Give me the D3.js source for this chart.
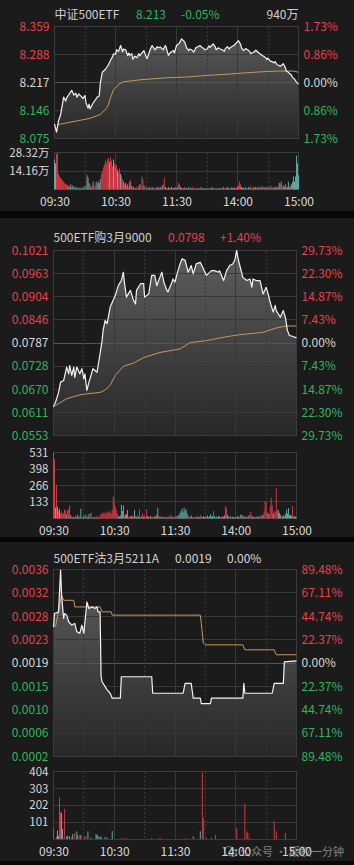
<!DOCTYPE html>
<html>
<head>
<meta charset="utf-8">
<script src="https://cdn.jsdelivr.net/npm/d3@7"></script>
<style>
  body { margin: 0; background: #1b1b1b; }
  svg { display: block; }
</style>
</head>
<body>
<div id="chart"></div>
<script>
var FONT = '"Noto Sans CJK SC","Noto Sans",sans-serif';
var RED = '#e8404d', GREEN = '#2fb55b', WHITE = '#d8d8d8';
var BAR_COL = { r: '#e33b47', g: '#58bab4', w: '#a6a6a6' };

// time axis (minute index, 0 = 09:30, 120 = 11:30/13:00, 240 = 15:00)
var timeTicks = [0, 60, 120, 180, 240];
var timeLabels = ['09:30', '10:30', '11:30', '14:00', '15:00'];
var solidTicks = [60, 120, 180];
var dashTicks = [30, 90, 150, 210];

// ---------- panel 1 : 中证500ETF ----------
var p1PctTicks = [1.73, 0.86, 0, -0.86, -1.73];
var p1PriceLabels = ['8.359', '8.288', '8.217', '8.146', '8.075'];
var p1VolTicks = [28.32, 14.16];
var p1Price = [
  [0,8.112],[2,8.091],[4,8.120],[6,8.135],[9,8.180],[11,8.170],[12,8.178],[14,8.186],[17,8.197],[19,8.185],
  [21,8.190],[22,8.180],[24,8.188],[25,8.185],[27,8.180],[28,8.176],[30,8.184],[31,8.165],[33,8.152],[34,8.162],
  [35,8.150],[37,8.160],[38,8.165],[40,8.172],[42,8.180],[44,8.183],[45,8.214],[47,8.243],[50,8.250],[53,8.262],
  [55,8.273],[57,8.282],[58,8.290],[60,8.288],[61,8.300],[63,8.296],[65,8.311],[67,8.295],[68,8.302],[70,8.300],
  [72,8.285],[73,8.292],[74,8.286],[76,8.290],[77,8.276],[79,8.284],[81,8.280],[83,8.290],[84,8.285],[86,8.292],
  [88,8.298],[89,8.290],[91,8.277],[93,8.292],[94,8.300],[96,8.311],[98,8.303],[99,8.300],[101,8.308],[102,8.305],
  [104,8.307],[106,8.302],[107,8.300],[109,8.311],[110,8.305],[112,8.286],[113,8.290],[115,8.295],[117,8.298],[118,8.292],
  [120,8.311],[122,8.315],[123,8.318],[125,8.328],[126,8.325],[128,8.320],[130,8.305],[132,8.298],[133,8.302],[135,8.300],
  [137,8.294],[139,8.305],[141,8.308],[143,8.311],[145,8.306],[146,8.305],[148,8.300],[150,8.302],[152,8.310],[153,8.306],
  [156,8.315],[158,8.308],[159,8.300],[161,8.305],[163,8.302],[165,8.300],[167,8.296],[168,8.303],[170,8.308],[172,8.302],
  [173,8.306],[175,8.309],[177,8.312],[179,8.318],[181,8.323],[183,8.314],[184,8.305],[186,8.298],[188,8.303],[190,8.300],
  [192,8.296],[193,8.290],[195,8.293],[196,8.294],[198,8.299],[199,8.297],[201,8.292],[202,8.290],[204,8.286],[206,8.283],
  [208,8.279],[209,8.275],[210,8.279],[212,8.272],[214,8.270],[216,8.267],[217,8.270],[219,8.262],[221,8.260],[222,8.258],
  [224,8.262],[225,8.265],[227,8.255],[228,8.246],[230,8.243],[231,8.240],[233,8.236],[234,8.230],[236,8.226],[238,8.218],
  [240,8.213]
];
var p1Avg = [
  [3,8.110],[15,8.116],[25,8.121],[35,8.126],[45,8.136],[50,8.148],[53,8.160],[55,8.178],[58,8.198],[63,8.212],
  [68,8.219],[85,8.224],[110,8.229],[130,8.231],[150,8.235],[170,8.238],[190,8.242],[210,8.245],[220,8.246],[235,8.246],
  [240,8.243]
];
// volume, 万 per minute
var p1Vol = [
  23,20,27,28,12,10,9,8,7,6,
  5,4,4,3,3,2,4,2,3,2,
  2,1,2,1,1,2,1,1,2,1,
  3,2,11,9,5,4,2,3,6,2,
  3,6,4,6,5,8,12,14,17,19,
  22,20,23,24,21,25,22,18,23,20,
  17,19,15,13,16,12,10,8,6,4,
  5,3,4,2,6,7,3,2,2,1,
  1,2,1,3,4,2,10,8,3,2,
  2,1,1,2,1,1,2,1,1,1,
  2,1,2,1,2,1,3,4,9,2,
  1,1,2,1,1,2,1,1,1,2,
  1,2,5,4,2,1,1,1,2,1,
  1,1,2,1,1,1,2,1,1,1,
  1,1,1,1,2,1,1,1,1,1,
  1,1,1,1,1,2,1,1,1,1,
  1,1,1,1,1,1,2,1,1,1,
  2,1,1,1,2,1,1,2,1,1,
  2,3,6,4,2,1,2,1,2,1,
  1,2,1,3,1,1,2,1,2,1,
  2,1,2,1,3,2,1,2,1,2,
  2,1,2,3,1,2,1,2,2,1,
  2,5,4,6,2,3,2,4,2,2,
  6,2,3,4,6,10,6,10,26,20,11
];
var p1Dir = 'gwrrrrrrrr' + 'rrrgrggrgr' + 'grgrwrgrgr' + 'grgwgrgrgr' + 'rgrwggrrrr' +
  'rrrrwrrrwr' + 'rrwrrwrrgr' + 'wrgrwrgrgr' + 'grgrwrrrgr' + 'rgrwgrgwrg' +
  'rgwrgrwrrg' + 'grwgrgrwgr' + 'grrrgwrgrw' + 'grgrwgrgrg' + 'rgwrgrgwrg' +
  'grgrwgrgrw' + 'rgrwgrgrgr' + 'wgrgrgwrgr' + 'grrrwgrgrg' + 'rgwrgrgwgr' +
  'grgwrgrgwr' + 'grwrgrgwgr' + 'gwrgrgwgrg' + 'gwrgggwgggg';

// ---------- panel 2 : 500ETF购3月9000 ----------
var p2PctTicks = [29.73, 22.30, 14.87, 7.43, 0, -7.43, -14.87, -22.30, -29.73];
var p2PriceLabels = ['0.1021','0.0963','0.0904','0.0846','0.0787','0.0728','0.0670','0.0611','0.0553'];
var p2VolTicks = [531, 398, 266, 133];
var p2Price = [
  [0,0.0625],[2,0.0637],[5,0.0662],[7,0.0688],[10,0.0692],[13,0.0726],[15,0.0709],[16,0.0730],[18,0.0705],[20,0.0726],
  [21,0.0700],[23,0.0726],[26,0.0709],[28,0.0722],[30,0.0696],[31,0.0709],[33,0.0667],[35,0.0688],[36,0.0696],[39,0.0722],
  [43,0.0713],[46,0.0760],[48,0.0793],[49,0.0819],[51,0.0844],[53,0.0836],[56,0.0878],[61,0.0907],[64,0.0932],[67,0.0945],
  [69,0.0966],[70,0.0941],[72,0.0903],[76,0.0920],[79,0.0895],[81,0.0886],[82,0.0920],[86,0.0937],[89,0.0937],[90,0.0903],
  [94,0.0911],[97,0.0958],[100,0.0958],[102,0.0932],[105,0.0953],[107,0.0966],[109,0.0941],[112,0.0920],[113,0.0916],[117,0.0941],
  [118,0.0949],[120,0.0941],[122,0.0962],[125,0.0987],[127,0.1000],[130,0.0996],[133,0.0966],[136,0.0983],[138,0.0962],[141,0.0987],
  [145,0.0991],[148,0.0975],[151,0.0958],[156,0.0970],[159,0.0970],[163,0.0966],[164,0.0970],[168,0.0945],[171,0.0970],[174,0.0983],
  [177,0.0987],[179,0.0996],[181,0.1021],[182,0.1004],[184,0.0983],[187,0.0953],[191,0.0945],[194,0.0949],[196,0.0928],[197,0.0949],
  [200,0.0945],[204,0.0945],[207,0.0911],[210,0.0928],[212,0.0911],[214,0.0890],[217,0.0865],[219,0.0882],[220,0.0869],[224,0.0852],
  [227,0.0869],[229,0.0852],[230,0.0836],[231,0.0819],[233,0.0806],[236,0.0804],[240,0.0800]
];
var p2Avg = [
  [2,0.0629],[13,0.0646],[26,0.0656],[35,0.0659],[46,0.0662],[51,0.0668],[56,0.0680],[61,0.0705],[69,0.0728],[79,0.0736],
  [89,0.0750],[105,0.0763],[125,0.0772],[135,0.0788],[151,0.0793],[171,0.0803],[184,0.0808],[207,0.0814],[220,0.0825],[230,0.0830],
  [240,0.0830]
];
var p2Vol = [
  531,478,88,271,95,62,77,40,58,35,
  45,72,65,30,64,77,106,25,15,10,
  12,8,20,15,30,10,18,80,12,8,
  25,10,30,8,15,35,10,45,12,8,
  10,15,8,20,10,12,25,35,40,45,
  50,38,42,55,45,60,48,40,70,175,
  130,98,72,40,20,15,25,111,60,106,
  20,35,30,70,15,10,20,18,25,12,
  70,20,12,30,15,72,10,20,40,15,
  25,10,72,20,15,10,20,8,15,12,
  20,15,30,88,20,15,10,20,12,15,
  10,15,8,12,20,10,30,15,8,12,
  15,10,20,25,30,45,60,80,50,85,
  60,75,40,20,15,10,25,12,8,10,
  10,15,20,8,12,30,15,10,20,12,
  15,10,25,12,20,35,15,18,59,20,
  12,15,10,20,15,8,12,20,15,25,
  100,80,30,15,10,20,8,12,15,10,
  12,10,20,15,8,30,32,15,20,10,
  15,20,10,25,30,54,20,12,15,10,
  12,15,20,10,15,25,20,30,60,140,
  130,50,40,30,98,167,108,40,60,50,
  243,60,70,45,30,20,15,25,20,35,
  70,40,85,25,30,20,100,15,20,12,10
];
var p2Dir = 'rrwrwrwrrr' + 'rrrwrrrwrg' + 'grgrgwrgrw' + 'grgrwgrgrw' + 'grwrgrrrrr' +
  'rrrrrrrrrr' + 'rrrrgwggwg' + 'rgwgrgrwrg' + 'grwrgrwrrg' + 'rgrwgrwgrw' +
  'rwggrgwrgr' + 'grgwrgrgwr' + 'grwrwgggwg' + 'ggwrgrwgrw' + 'rgrwgrgrwg' +
  'grwgrgwgrg' + 'rgrgwrgrgw' + 'rrwgrgrwgr' + 'grgwrggrwg' + 'grgwrrgwgr' +
  'grgwrgrwrr' + 'rrwrrrrwrr' + 'rrwwgrgwrg' + 'gwgwggrrgwr';

// ---------- panel 3 : 500ETF沽3月5211A ----------
var p3PctTicks = [89.48, 67.11, 44.74, 22.37, 0, -22.37, -44.74, -67.11, -89.48];
var p3PriceLabels = ['0.0036','0.0032','0.0028','0.0023','0.0019','0.0015','0.0010','0.0006','0.0002'];
var p3VolTicks = [404, 303, 202, 101];
var p3Price = [
  [0,0.00255],[1,0.00280],[5,0.00283],[7,0.00359],[8,0.00313],[10,0.00271],[11,0.00280],[13,0.00277],[15,0.00265],[18,0.00259],
  [21,0.00262],[23,0.00247],[26,0.00244],[28,0.00259],[30,0.00244],[33,0.00301],[35,0.00289],[38,0.00292],[41,0.00289],[43,0.00292],
  [44,0.00283],[46,0.00283],[47,0.00165],[48,0.00156],[51,0.00147],[53,0.00141],[56,0.00135],[58,0.00126],[66,0.00126],[67,0.00165],
  [97,0.00165],[98,0.00135],[128,0.00135],[130,0.00153],[136,0.00153],[138,0.00126],[145,0.00126],[146,0.00116],[155,0.00116],[156,0.00126],
  [187,0.00126],[188,0.00153],[189,0.00135],[216,0.00135],[218,0.00153],[227,0.00153],[228,0.00192],[240,0.00194]
];
var p3Avg = [
  [2,0.00256],[8,0.00313],[10,0.00304],[20,0.00304],[21,0.00292],[46,0.00292],[48,0.00283],[57,0.00283],[58,0.00277],[145,0.00277],
  [146,0.00262],[148,0.00226],[150,0.00223],[187,0.00223],[189,0.00214],[218,0.00214],[220,0.00205],[240,0.00205]
];
// sparse trades: [minute, volume, direction]
var p3Vol = [
  [0,62,'r'],[3,15,'r'],[4,51,'w'],[5,20,'g'],[6,248,'r'],[7,162,'r'],[8,155,'w'],[9,60,'g'],[11,180,'r'],[13,15,'g'],
  [14,20,'g'],[16,18,'g'],[18,12,'r'],[19,30,'w'],[21,36,'r'],[23,46,'g'],[24,20,'w'],[26,26,'r'],[27,22,'w'],[31,18,'r'],
  [32,15,'r'],[34,46,'g'],[37,8,'g'],[42,30,'g'],[43,25,'g'],[44,18,'g'],[46,15,'g'],[47,12,'w'],[51,12,'g'],[53,8,'g'],
  [58,48,'g'],[67,6,'r'],[70,6,'r'],[73,5,'r'],[97,4,'g'],[104,6,'r'],[106,5,'r'],[129,4,'r'],[131,4,'r'],[138,16,'g'],
  [145,46,'g'],[147,398,'r'],[148,125,'r'],[151,5,'g'],[156,8,'r'],[160,24,'r'],[181,64,'r'],[189,211,'r'],[191,46,'r'],[192,36,'r'],
  [194,5,'r'],[218,105,'r'],[220,46,'r'],[229,36,'r']
];

var toBars = function(vol, dir) {
  return vol.map(function(v, i) { return { i: i, v: v, d: dir.charAt(i) }; });
};

var panels = [
  { title: '中证500ETF', last: '8.213', chg: '-0.05%', infoColor: GREEN, lastX: 136, chgX: 181, extra: '940万',
    prev: 8.217, pctMax: 1.73, pctTicks: p1PctTicks, priceLabels: p1PriceLabels,
    price: p1Price, avg: p1Avg, bars: toBars(p1Vol, p1Dir), volMax: 28.32, volTicks: p1VolTicks,
    volFmt: function(d) { return d.toFixed(2) + '万'; },
    x0: 54.5, x1: 298.5, head: 13, top: 26.5, bot: 138.5, vTop: 152.5, vBot: 189.5 },
  { title: '500ETF购3月9000', last: '0.0798', chg: '+1.40%', infoColor: RED, lastX: 168, chgX: 220,
    prev: 0.0787, pctMax: 29.73, pctTicks: p2PctTicks, priceLabels: p2PriceLabels,
    price: p2Price, avg: p2Avg, bars: toBars(p2Vol, p2Dir), volMax: 531, volTicks: p2VolTicks,
    volFmt: function(d) { return d; },
    x0: 53.5, x1: 296.5, head: 236, top: 250.5, bot: 435.5, vTop: 452.5, vBot: 518.5 },
  { title: '500ETF沽3月5211A', last: '0.0019', chg: '0.00%', infoColor: WHITE, lastX: 175, chgX: 227,
    prev: 0.0019, pctMax: 89.48, pctTicks: p3PctTicks, priceLabels: p3PriceLabels,
    price: p3Price, avg: p3Avg, bars: p3Vol.map(function(t) { return { i: t[0], v: t[1], d: t[2] }; }),
    volMax: 404, volTicks: p3VolTicks,
    volFmt: function(d) { return d; },
    x0: 53.5, x1: 296.5, head: 557, top: 569.5, bot: 756.5, vTop: 771.5, vBot: 839 }
];

var svg = d3.select('#chart').append('svg')
  .attr('width', 354)
  .attr('height', 865)
  .style('font-family', FONT);

svg.append('rect').attr('width', 354).attr('height', 865).attr('fill', '#1b1b1b');

// black separators between the panels
[[211, 7], [537, 5], [861, 4]].forEach(function(b) {
  svg.append('rect').attr('x', 0).attr('y', b[0]).attr('width', 354).attr('height', b[1]).attr('fill', '#070707');
});

var defs = svg.append('defs');
var signColor = function(d) { return d > 0 ? RED : (d < 0 ? GREEN : WHITE); };

var drawPanel = function(p, k) {
  var x = d3.scaleLinear().domain([0, 240]).range([p.x0, p.x1]);
  var yPct = d3.scaleLinear().domain([-p.pctMax, p.pctMax]).range([p.bot, p.top]);
  var y = d3.scaleLinear()
    .domain([p.prev * (1 - p.pctMax / 100), p.prev * (1 + p.pctMax / 100)])
    .range([p.bot, p.top]);
  var yv = d3.scaleLinear().domain([0, p.volMax]).range([p.vBot, p.vTop]);
  var g = svg.append('g');

  // header
  var head = g.append('g').attr('font-size', 12).attr('dominant-baseline', 'central');
  head.append('text').attr('x', p.x0).attr('y', p.head).attr('fill', '#cfcfcf').text(p.title);
  head.append('text').attr('x', p.lastX).attr('y', p.head).attr('fill', p.infoColor).text(p.last);
  head.append('text').attr('x', p.chgX).attr('y', p.head).attr('fill', p.infoColor).text(p.chg);
  if (p.extra) {
    head.append('text').attr('x', p.x1).attr('y', p.head).attr('text-anchor', 'end')
      .attr('fill', '#cfcfcf').text(p.extra);
  }

  // fill gradient under the price line
  var grad = defs.append('linearGradient').attr('id', 'fill' + k)
    .attr('gradientUnits', 'userSpaceOnUse')
    .attr('x1', 0).attr('x2', 0).attr('y1', p.top).attr('y2', p.bot);
  grad.append('stop').attr('offset', 0).attr('stop-color', '#5e5e5e');
  grad.append('stop').attr('offset', 1).attr('stop-color', '#272727');

  var area = d3.area()
    .x(function(d) { return x(d[0]); })
    .y0(p.bot)
    .y1(function(d) { return y(d[1]); });
  g.append('path').datum(p.price).attr('d', area).attr('fill', 'url(#fill' + k + ')');

  // grid: price panel
  g.selectAll('.hg').data(p.pctTicks).enter().append('line')
    .attr('x1', p.x0).attr('x2', p.x1)
    .attr('y1', function(d) { return yPct(d); })
    .attr('y2', function(d) { return yPct(d); })
    .attr('stroke', function(d) { return d === 0 ? '#555' : '#383838'; })
    .attr('shape-rendering', 'crispEdges');

  // grid: volume panel
  g.selectAll('.vg').data(p.volTicks.concat([0])).enter().append('line')
    .attr('x1', p.x0).attr('x2', p.x1)
    .attr('y1', function(d) { return yv(d); })
    .attr('y2', function(d) { return yv(d); })
    .attr('stroke', '#383838')
    .attr('shape-rendering', 'crispEdges');

  [[p.top, p.bot], [p.vTop, p.vBot]].forEach(function(r) {
    g.selectAll(null).data(solidTicks.concat(dashTicks)).enter().append('line')
      .attr('x1', function(d) { return x(d); })
      .attr('x2', function(d) { return x(d); })
      .attr('y1', r[0]).attr('y2', r[1])
      .attr('stroke', '#383838')
      .attr('stroke-dasharray', function(d) { return dashTicks.indexOf(d) >= 0 ? '2,2' : null; })
      .attr('shape-rendering', 'crispEdges');
    g.append('rect')
      .attr('x', p.x0).attr('y', r[0])
      .attr('width', p.x1 - p.x0).attr('height', r[1] - r[0])
      .attr('fill', 'none').attr('stroke', '#3c3c3c')
      .attr('shape-rendering', 'crispEdges');
  });

  // average and price lines
  var line = d3.line()
    .x(function(d) { return x(d[0]); })
    .y(function(d) { return y(d[1]); });
  g.append('path').datum(p.avg).attr('d', line)
    .attr('fill', 'none').attr('stroke', '#c8975a').attr('stroke-width', 1);
  g.append('path').datum(p.price).attr('d', line)
    .attr('fill', 'none').attr('stroke', '#f2f2f2').attr('stroke-width', 1.2)
    .attr('stroke-linejoin', 'round');

  // volume bars
  g.selectAll('.vb').data(p.bars.filter(function(d) { return d.v > 0; })).enter().append('rect')
    .attr('x', function(d) { return x(d.i) - 0.45; })
    .attr('width', 0.9)
    .attr('y', function(d) { return yv(d.v); })
    .attr('height', function(d) { return p.vBot - yv(d.v); })
    .attr('fill', function(d) { return BAR_COL[d.d]; });

  // axes
  var axL = g.append('g').attr('transform', 'translate(' + p.x0 + ',0)')
    .call(d3.axisLeft(yPct).tickValues(p.pctTicks).tickSize(0).tickPadding(5)
      .tickFormat(function(d, i) { return p.priceLabels[i]; }));
  var axR = g.append('g').attr('transform', 'translate(' + p.x1 + ',0)')
    .call(d3.axisRight(yPct).tickValues(p.pctTicks).tickSize(0).tickPadding(5)
      .tickFormat(function(d) { return Math.abs(d).toFixed(2) + '%'; }));
  [axL, axR].forEach(function(a) {
    a.select('.domain').remove();
    a.attr('font-size', 12).attr('font-family', FONT);
    a.selectAll('text').attr('fill', signColor);
  });

  var axV = g.append('g').attr('transform', 'translate(' + p.x0 + ',0)')
    .call(d3.axisLeft(yv).tickValues(p.volTicks).tickSize(0).tickPadding(5).tickFormat(p.volFmt));
  axV.select('.domain').remove();
  axV.attr('font-size', 11.5).attr('font-family', FONT);
  axV.selectAll('text').attr('fill', WHITE);

  var axT = g.append('g').attr('transform', 'translate(0,' + p.vBot + ')')
    .call(d3.axisBottom(x).tickValues(timeTicks).tickSize(0).tickPadding(8)
      .tickFormat(function(d, i) { return timeLabels[i]; }));
  axT.select('.domain').remove();
  axT.attr('font-size', 12).attr('font-family', FONT);
  axT.selectAll('text').attr('fill', WHITE);
};

panels.forEach(drawPanel);

// watermark (sits over the last time labels, as in the source image)
var wm = svg.append('g').attr('opacity', 0.5);
wm.append('circle').attr('cx', 229).attr('cy', 851).attr('r', 4.5).attr('fill', 'none').attr('stroke', '#ddd');
wm.append('circle').attr('cx', 233).attr('cy', 853).attr('r', 3.5).attr('fill', 'none').attr('stroke', '#ddd');
wm.append('text').attr('x', 240).attr('y', 851).attr('dominant-baseline', 'central')
  .attr('font-size', 11).attr('fill', '#e0e0e0').text('公众号 · 期权一分钟');
</script>
</body>
</html>
